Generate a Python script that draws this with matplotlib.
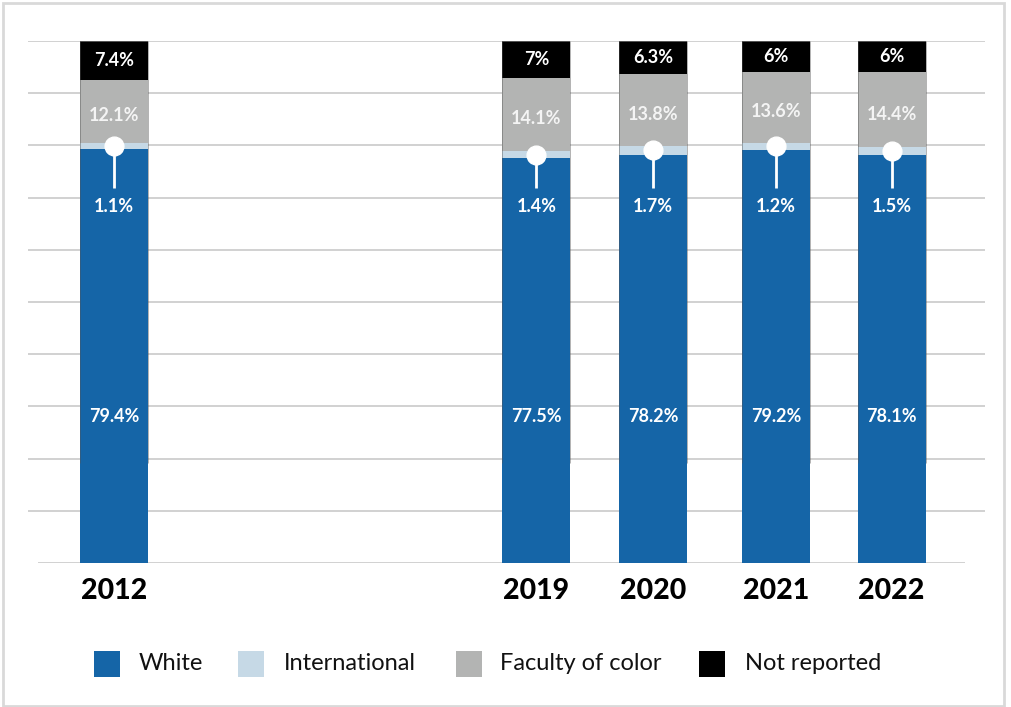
import matplotlib
matplotlib.use("Agg")
import matplotlib.pyplot as plt
from matplotlib.patches import Rectangle

# Faculty composition by year (percent of total)
years = ["2012", "2019", "2020", "2021", "2022"]
white = [79.4, 77.5, 78.2, 79.2, 78.1]
international = [1.1, 1.4, 1.7, 1.2, 1.5]
faculty_of_color = [12.1, 14.1, 13.8, 13.6, 14.4]
not_reported = [7.4, 7.0, 6.3, 6.0, 6.0]
legend_labels = ["White", "International", "Faculty of color", "Not reported"]

# Bar positions (2012 set apart from the recent years)
xpos = [0.0, 3.58, 4.57, 5.61, 6.59]
bar_w = 0.576

C_WHITE = "#1565a7"
C_INTL = "#c6d9e6"
C_FOC = "#b3b4b3"
C_NR = "#000000"
FONT = "Lato"

W, H = 1011, 707
fig = plt.figure(figsize=(W / 100, H / 100), dpi=100)
fig.patch.set_facecolor("white")

# axes spans the plotting band: 0% at y=563px, 100% at y=41px
ax = fig.add_axes([0, (H - 563) / H, 1, 522 / H])
ax.set_xlim(-114 / 118, (W - 114) / 118)
ax.set_ylim(0, 100)
ax.axis("off")

def px_x(p):
    return (p - 114) / 118

# gridlines
ax.hlines(range(10, 101, 10), px_x(28), px_x(985), color="#cacaca", lw=1.2, zorder=0)
ax.hlines(0, px_x(38), px_x(965), color="#cacaca", lw=1.2, zorder=0)

b1 = [w + i for w, i in zip(white, international)]
b2 = [a + f for a, f in zip(b1, faculty_of_color)]

ax.bar(xpos, white, bar_w, color=C_WHITE, zorder=2)
ax.bar(xpos, international, bar_w, bottom=white, color=C_INTL, zorder=2)
ax.bar(xpos, faculty_of_color, bar_w, bottom=b1, color=C_FOC, zorder=2)
ax.bar(xpos, not_reported, bar_w, bottom=b2, color=C_NR, zorder=2)

# faint dark edges along the upper part of each column
for x in xpos:
    for dx in (-bar_w / 2, bar_w / 2):
        ax.vlines(x + dx, 19.2, 100, color="#555555", lw=0.7, alpha=0.45, zorder=3)
    ax.hlines(100, x - bar_w / 2, x + bar_w / 2, color="#666666", lw=1.2, zorder=3)

lab = dict(ha="center", va="center", color="white", fontsize=13, fontweight="bold",
           family=FONT, zorder=5)

for i, x in enumerate(xpos):
    ax.text(x, 28, f"{white[i]:g}%", **lab)
    ax.text(x, b2[i] - faculty_of_color[i] / 2 - 0.8, f"{faculty_of_color[i]:g}%",
            **{**lab, "color": "#f4f4f4"})
    ax.text(x, b2[i] + not_reported[i] / 2, f"{not_reported[i]:g}%", **lab)
    # callout for the thin International segment
    cy = white[i] + international[i] / 2
    ax.plot([x, x], [cy, 71.8], color="white", lw=2, zorder=4, solid_capstyle="butt")
    ax.plot(x, cy, "o", ms=13.5, mfc="white", mec="white", zorder=5)
    ax.text(x, 68.2, f"{international[i]:g}%", **lab)
    # year label
    ax.text(x, -5.3, years[i], ha="center", va="center", fontsize=20.5, fontweight=900,
            family=FONT, color="black", clip_on=False)

# legend row
sq = 26
leg_sq_x = [94, 238, 456, 699]
leg_tx_x = [139, 284, 500, 745]
leg_cols = [C_WHITE, C_INTL, C_FOC, C_NR]
for sx, tx, col, name in zip(leg_sq_x, leg_tx_x, leg_cols, legend_labels):
    fig.add_artist(Rectangle((sx / W, (H - 677) / H), sq / W, sq / H,
                             transform=fig.transFigure, facecolor=col, edgecolor="none"))
    fig.text(tx / W, (H - 663) / H, name, ha="left", va="center", fontsize=17,
             family=FONT, color="#111111")

# outer frame
fig.add_artist(Rectangle((3 / W, 1 / H), 1001 / W, 703 / H, transform=fig.transFigure,
                         facecolor="none", edgecolor="#d9d9d9", lw=2))

fig.savefig("out.png", dpi=100)
